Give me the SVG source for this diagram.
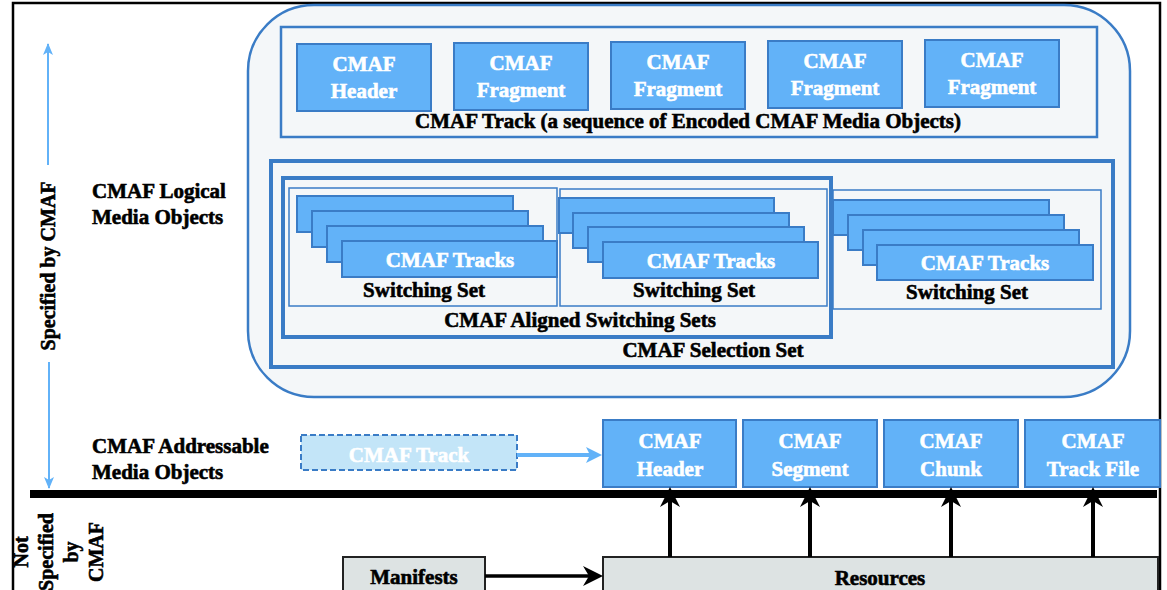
<svg xmlns="http://www.w3.org/2000/svg" width="1167" height="590" viewBox="0 0 1167 590">
<defs>
<style>
text{font-family:"Liberation Serif","Times New Roman",serif;font-weight:bold}
.t{font-size:21px;fill:#000;stroke:#000;stroke-width:0.6;text-anchor:middle}
.w{font-size:21px;fill:#fff;stroke:#fff;stroke-width:0.6;text-anchor:middle}
.l{font-size:21px;fill:#000;stroke:#000;stroke-width:0.6}
.box{fill:#62b2f8;stroke:#3a7cc6;stroke-width:2}
.cont{fill:#f4f7f9;stroke:#3a7cc6}
.ss{fill:#f4f7f9;stroke:#3a7cc6;stroke-width:1.5}
.gray{fill:#dde3e3;stroke:#222;stroke-width:2}
</style>
<marker id="ab" viewBox="0 0 12 12" refX="11" refY="6" markerWidth="12" markerHeight="12" markerUnits="userSpaceOnUse" orient="auto"><path d="M0,1 L12,6 L0,11 L3,6 z" fill="#62b2f8"/></marker>
<marker id="ab2" viewBox="0 0 16 16" refX="12" refY="8" markerWidth="16" markerHeight="16" markerUnits="userSpaceOnUse" orient="auto"><path d="M0,0 L16,8 L0,16 L4,8 z" fill="#62b2f8"/></marker>
<marker id="ak" viewBox="0 0 20 20" refX="15" refY="10" markerWidth="20" markerHeight="20" markerUnits="userSpaceOnUse" orient="auto"><path d="M0,0 L20,10 L0,20 L6,10 z" fill="#000"/></marker>
</defs>
<rect x="0" y="0" width="1167" height="590" fill="#fff"/>
<rect x="13" y="3" width="1147" height="620" fill="#fff" stroke="#000" stroke-width="2.5"/>

<g id="logical-objects">
<rect x="248" y="5" width="882" height="392" rx="66" class="cont" stroke-width="2.5"/>
</g>

<g id="cmaf-track">
<rect x="281" y="27" width="816" height="110" class="cont" stroke-width="2.5"/>
<text class="t" x="688" y="128">CMAF Track (a sequence of Encoded CMAF Media Objects)</text>
</g>
<g id="track-header"><rect x="297" y="44" width="134" height="67" class="box"/><text class="w" x="364" y="71">CMAF</text><text class="w" x="364" y="98">Header</text></g>
<g id="track-fragment-1"><rect x="454" y="43" width="134" height="67" class="box"/><text class="w" x="521" y="70">CMAF</text><text class="w" x="521" y="97">Fragment</text></g>
<g id="track-fragment-2"><rect x="611" y="42" width="134" height="67" class="box"/><text class="w" x="678" y="69">CMAF</text><text class="w" x="678" y="96">Fragment</text></g>
<g id="track-fragment-3"><rect x="768" y="41" width="134" height="67" class="box"/><text class="w" x="835" y="68">CMAF</text><text class="w" x="835" y="95">Fragment</text></g>
<g id="track-fragment-4"><rect x="925" y="40" width="134" height="67" class="box"/><text class="w" x="992" y="67">CMAF</text><text class="w" x="992" y="94">Fragment</text></g>

<g id="selection-set">
<rect x="271" y="161" width="842" height="206" class="cont" stroke-width="4"/>
<text class="t" x="713" y="357">CMAF Selection Set</text>
</g>
<g id="aligned-switching-sets">
<rect x="283" y="178" width="548" height="159" class="cont" stroke-width="4"/>
<text class="t" x="580" y="327">CMAF Aligned Switching Sets</text>
</g>
<g id="switching-set-1">
<rect x="289" y="188" width="268" height="118" class="ss"/>
<rect x="297" y="196" width="216" height="36" class="box"/>
<rect x="312" y="211" width="216" height="36" class="box"/>
<rect x="327" y="226" width="216" height="36" class="box"/>
<rect x="342" y="241" width="215" height="36" class="box"/>
<text class="w" x="450" y="267">CMAF Tracks</text>
<text class="t" x="424" y="297">Switching Set</text>
</g>
<g id="switching-set-2">
<rect x="560" y="189" width="267" height="117" class="ss"/>
<rect x="559" y="198" width="215" height="35" class="box"/>
<rect x="573" y="213" width="216" height="35" class="box"/>
<rect x="588" y="227" width="216" height="35" class="box"/>
<rect x="603" y="242" width="215" height="36" class="box"/>
<text class="w" x="711" y="268">CMAF Tracks</text>
<text class="t" x="694" y="297">Switching Set</text>
</g>
<g id="switching-set-3">
<rect x="833" y="190" width="268" height="119" class="ss"/>
<rect x="833" y="200" width="216" height="35" class="box"/>
<rect x="848" y="215" width="216" height="35" class="box"/>
<rect x="863" y="230" width="216" height="35" class="box"/>
<rect x="877" y="245" width="216" height="35" class="box"/>
<text class="w" x="985" y="270">CMAF Tracks</text>
<text class="t" x="967" y="299">Switching Set</text>
</g>

<g id="labels">
<text class="l" x="92" y="198">CMAF Logical</text>
<text class="l" x="92" y="224">Media Objects</text>
<text class="l" x="92" y="453">CMAF Addressable</text>
<text class="l" x="92" y="479">Media Objects</text>
<text class="t" transform="translate(55,266) rotate(-90)" x="0" y="0" style="font-size:20px">Specified by CMAF</text>
<g transform="translate(0,552) rotate(-90)">
<text class="t" x="0" y="28" style="font-size:20px">Not</text>
<text class="t" x="0" y="53" style="font-size:20px">Specified</text>
<text class="t" x="0" y="78" style="font-size:20px">by</text>
<text class="t" x="0" y="103" style="font-size:20px">CMAF</text>
</g>
</g>

<g id="addressable-track">
<rect x="301" y="435" width="216" height="35" fill="#c3e5f8" stroke="#3a7cc6" stroke-width="2" stroke-dasharray="6 3"/>
<text class="w" x="409" y="462">CMAF Track</text>
</g>
<g id="addr-header"><rect x="603" y="420" width="133" height="67" class="box"/><text class="w" x="670" y="448">CMAF</text><text class="w" x="670" y="476">Header</text></g>
<g id="addr-segment"><rect x="743" y="420" width="134" height="67" class="box"/><text class="w" x="810" y="448">CMAF</text><text class="w" x="810" y="476">Segment</text></g>
<g id="addr-chunk"><rect x="884" y="420" width="134" height="67" class="box"/><text class="w" x="951" y="448">CMAF</text><text class="w" x="951" y="476">Chunk</text></g>
<g id="addr-trackfile"><rect x="1025" y="420" width="135" height="67" class="box"/><text class="w" x="1093" y="448">CMAF</text><text class="w" x="1093" y="476">Track File</text></g>

<g id="manifests"><rect x="343" y="557" width="142" height="50" class="gray"/><text class="t" x="414" y="584">Manifests</text></g>
<g id="resources"><rect x="603" y="557" width="555" height="50" class="gray"/><text class="t" x="880" y="585">Resources</text></g>

<g id="connectors" fill="none">
<line x1="30" y1="494" x2="1157" y2="494" stroke="#000" stroke-width="8"/>
<line x1="48" y1="165" x2="48" y2="44" stroke="#62b2f8" stroke-width="2" marker-end="url(#ab)"/>
<line x1="49" y1="362" x2="49" y2="488" stroke="#62b2f8" stroke-width="2" marker-end="url(#ab)"/>
<line x1="517" y1="455" x2="598" y2="455" stroke="#62b2f8" stroke-width="4" marker-end="url(#ab2)"/>
<line x1="485" y1="576" x2="598" y2="576" stroke="#000" stroke-width="3.5" marker-end="url(#ak)"/>
<line x1="670" y1="557" x2="670" y2="492" stroke="#000" stroke-width="4" marker-end="url(#ak)"/>
<line x1="810" y1="557" x2="810" y2="492" stroke="#000" stroke-width="4" marker-end="url(#ak)"/>
<line x1="951" y1="557" x2="951" y2="492" stroke="#000" stroke-width="4" marker-end="url(#ak)"/>
<line x1="1093" y1="557" x2="1093" y2="492" stroke="#000" stroke-width="4" marker-end="url(#ak)"/>
</g>
</svg>
